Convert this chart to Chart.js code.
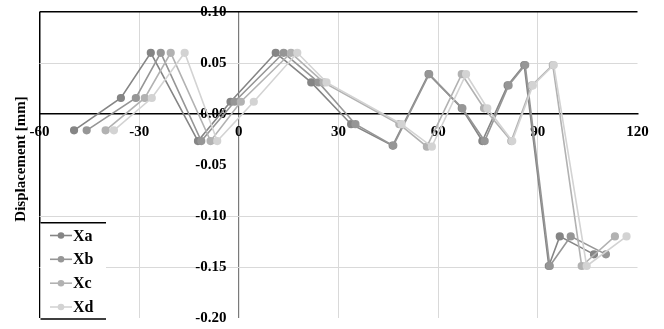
<!DOCTYPE html>
<html>
<head>
<meta charset="utf-8">
<script src="https://cdn.jsdelivr.net/npm/chart.js@4"></script>
<style>
html,body{margin:0;padding:0;background:#fff;}
#wrap{width:664px;height:329px;}
</style>
</head>
<body>
<div id="wrap"><canvas id="c" width="664" height="329"></canvas></div>
<script>
// ---- data ----
const seriesNames = ["Xa", "Xb", "Xc", "Xd"];
const xaX = [-49.6, -35.5, -26.5, -12.3, -2.5, 11.1, 21.8, 33.8, 46.3, 57.1, 67.1, 73.3, 80.9, 85.9, 93.3, 96.6, 106.9];
const xaY = [-0.016, 0.0157, 0.060, -0.0265, 0.012, 0.060, 0.031, -0.010, -0.031, 0.039, 0.0056, -0.0265, 0.028, 0.048, -0.149, -0.120, -0.1376];
const xbX = [-45.8, -31.0, -23.5, -11.3, -1.3, 13.5, 24.0, 35.1, 46.5, 57.3, 67.3, 74.0, 81.2, 86.2, 93.6, 99.9, 110.5];
const xbY = [-0.016, 0.0157, 0.060, -0.0265, 0.012, 0.060, 0.031, -0.010, -0.031, 0.039, 0.0056, -0.0265, 0.028, 0.048, -0.149, -0.120, -0.1376];
const xcX = [-40.1, -28.3, -20.5, -8.5, 0.6, 15.7, 25.5, 48.3, 56.6, 67.1, 73.8, 82.0, 88.2, 94.5, 103.2, 113.2];
const xcY = [-0.016, 0.0157, 0.060, -0.0265, 0.012, 0.060, 0.031, -0.010, -0.032, 0.039, 0.0056, -0.0265, 0.028, 0.048, -0.149, -0.120];
const xdX = [-37.6, -26.2, -16.3, -6.5, 4.5, 17.6, 26.4, 49.0, 58.1, 68.4, 74.8, 82.3, 88.5, 94.8, 104.7, 116.7];
const xdY = [-0.016, 0.0157, 0.060, -0.0265, 0.012, 0.060, 0.031, -0.010, -0.032, 0.039, 0.0056, -0.0265, 0.028, 0.048, -0.149, -0.120];
const xTicks = [-60, -30, 0, 30, 60, 90, 120];
const yTicks = [0.10, 0.05, 0.00, -0.05, -0.10, -0.15, -0.20];
const yTitle = "Displacement [mm]";

const colors = ["#858585", "#969696", "#b2b2b2", "#d3d3d3"];
const FONT = "'Liberation Serif', 'Times New Roman', serif";

function pts(xs, ys){ return xs.map((x,i)=>({x:x, y:ys[i]})); }
const allData = [pts(xaX,xaY), pts(xbX,xbY), pts(xcX,xcY), pts(xdX,xdY)];

const datasets = seriesNames.map((n,i)=>({
  label: n,
  data: allData[i],
  showLine: true,
  borderColor: colors[i],
  backgroundColor: colors[i],
  pointBackgroundColor: colors[i],
  pointBorderColor: colors[i],
  borderWidth: 1.6,
  pointRadius: 3.3,
  pointHoverRadius: 3.3,
  tension: 0,
  order: 4 - i
}));

const decor = {
  id: 'decor',
  afterDraw(chart){
    const ctx = chart.ctx;
    // y-axis title
    ctx.save();
    ctx.font = "bold 15px " + FONT;
    ctx.fillStyle = "#000";
    ctx.textAlign = "center";
    ctx.textBaseline = "middle";
    ctx.translate(21, 159);
    ctx.rotate(-Math.PI/2);
    ctx.fillText(yTitle, 0, 0);
    ctx.restore();
    // legend
    ctx.save();
    const lx = 40.5, lr = 106, ly = 222.7, lb = 319;
    ctx.fillStyle = "#fff";
    ctx.fillRect(lx, ly, lr - lx, lb - ly);
    ctx.strokeStyle = "#000";
    ctx.lineWidth = 1.5;
    ctx.beginPath();
    ctx.moveTo(lx, ly); ctx.lineTo(lr, ly);
    ctx.moveTo(lx, lb); ctx.lineTo(lr, lb);
    ctx.stroke();
    const rows = [235.5, 259.3, 283.2, 307];
    chart.data.datasets.forEach((ds, i)=>{
      const yy = rows[i];
      ctx.strokeStyle = ds.borderColor;
      ctx.lineWidth = 1.6;
      ctx.beginPath(); ctx.moveTo(50, yy); ctx.lineTo(72, yy); ctx.stroke();
      ctx.fillStyle = ds.borderColor;
      ctx.beginPath(); ctx.arc(61, yy, 3.3, 0, Math.PI*2); ctx.fill();
      ctx.fillStyle = "#000";
      ctx.font = "bold 16px " + FONT;
      ctx.textAlign = "left";
      ctx.textBaseline = "middle";
      ctx.fillText(ds.label, 73, yy + 1);
    });
    ctx.restore();
  }
};

function zeroPad(s){ s.paddingTop = 0; s.paddingBottom = 0; s.paddingLeft = 0; s.paddingRight = 0; }

new Chart(document.getElementById('c'), {
  type: 'scatter',
  data: { datasets },
  options: {
    responsive: false,
    animation: false,
    devicePixelRatio: 1,
    layout: { padding: { left: 39.5, right: 26.5, top: 12, bottom: 11 } },
    plugins: { legend: { display: false }, tooltip: { enabled: false } },
    scales: {
      x: {
        type: 'linear',
        min: -60, max: 120,
        position: { y: 0 },
        afterBuildTicks: (s) => { s.ticks = xTicks.map(v => ({ value: v })); },
        afterFit: zeroPad,
        ticks: {
          padding: 9,
          color: '#000',
          font: { family: FONT, size: 15, weight: 'bold' },
          maxRotation: 0, autoSkip: false,
          callback: (v) => String(v)
        },
        grid: {
          drawTicks: false,
          lineWidth: (c) => {
            const v = c.tick ? c.tick.value : null;
            if (v === -60) return 1.5;
            if (v === 0) return 1.2;
            return 1;
          },
          color: (c) => {
            const v = c.tick ? c.tick.value : null;
            if (v === -60) return '#000';
            if (v === 0) return '#7a7a7a';
            if (v === 120) return 'rgba(0,0,0,0)';
            return '#d9d9d9';
          }
        },
        border: { display: true, color: '#000', width: 1.5 }
      },
      y: {
        type: 'linear',
        min: -0.2, max: 0.1,
        // labels sit ~12px left of the x=0 axis line
        position: { x: -3.7 },
        afterBuildTicks: (s) => { s.ticks = yTicks.map(v => ({ value: v })); },
        afterFit: zeroPad,
        ticks: {
          padding: 0,
          color: '#000',
          font: { family: FONT, size: 15, weight: 'bold' },
          autoSkip: false,
          callback: (v) => Number(v).toFixed(2)
        },
        grid: {
          drawTicks: false,
          lineWidth: (c) => (c.tick && Math.abs(c.tick.value - 0.1) < 1e-9) ? 1.5 : 1,
          color: (c) => {
            const v = c.tick ? c.tick.value : null;
            if (v === null) return '#d9d9d9';
            if (Math.abs(v - 0.1) < 1e-9) return '#000';
            if (Math.abs(v) < 1e-9 || Math.abs(v + 0.05) < 1e-9 || Math.abs(v + 0.2) < 1e-9) return 'rgba(0,0,0,0)';
            return '#d9d9d9';
          }
        },
        border: { display: false }
      }
    }
  },
  plugins: [decor]
});
</script>
</body>
</html>
